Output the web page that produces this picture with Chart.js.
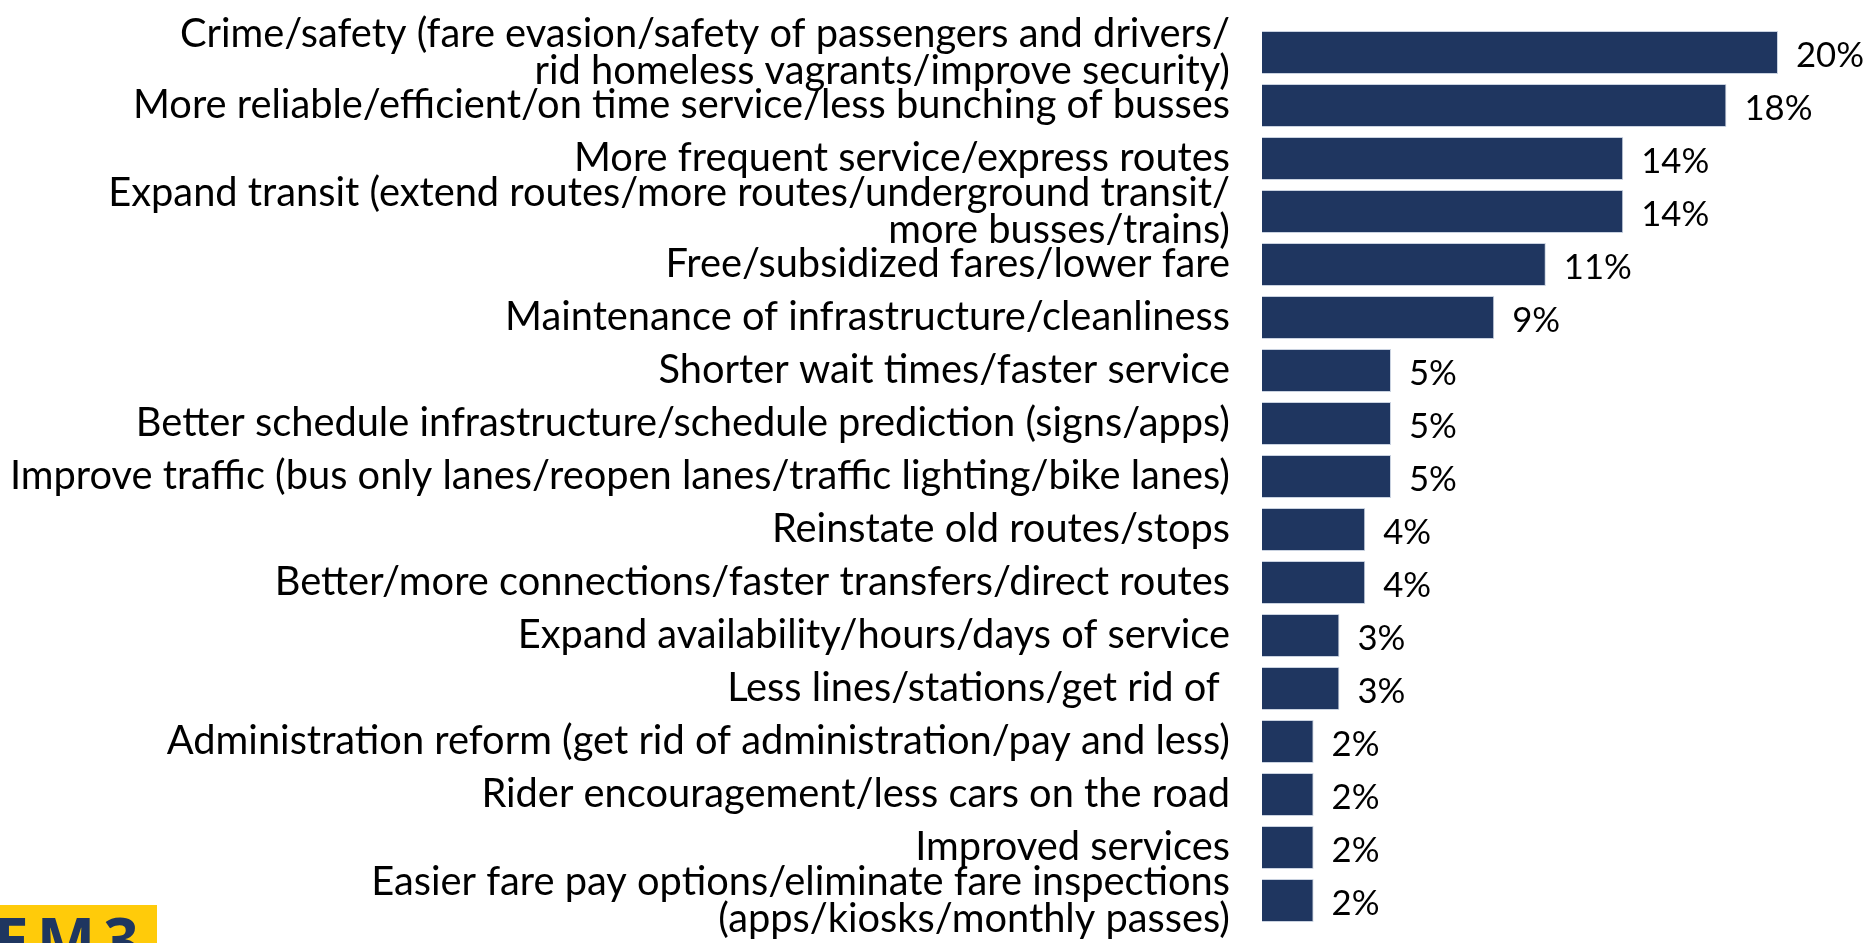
<!DOCTYPE html>
<html>
<head>
<meta charset="utf-8">
<script src="https://cdn.jsdelivr.net/npm/chart.js@4.4.0/dist/chart.umd.min.js"></script>
<style>
  html, body { margin: 0; padding: 0; background: #fff; overflow: hidden; }
  #wrap { position: relative; width: 1875px; height: 943px; }
  #logo {
    position: absolute; left: 0; top: 905px; width: 157px; height: 38px;
    background: #ffcb0a; overflow: hidden;
  }
  #logo span {
    position: absolute; left: -6px; top: 3px;
    font: bold 62px "Open Sans", sans-serif; color: #1f3660; letter-spacing: 8px;
    line-height: 1;
  }
</style>
</head>
<body>
<div id="wrap">
  <canvas id="chartIdeas" width="1875" height="943"></canvas>
  <div id="logo"><span>EM3</span></div>
</div>
<script>
const categories = [
  ["Crime/safety (fare evasion/safety of passengers and drivers/", "rid homeless vagrants/improve security)"],
  "More reliable/efficient/on time service/less bunching of busses",
  "More frequent service/express routes",
  ["Expand transit (extend routes/more routes/underground transit/", "more busses/trains)"],
  "Free/subsidized fares/lower fare",
  "Maintenance of infrastructure/cleanliness",
  "Shorter wait times/faster service",
  "Better schedule infrastructure/schedule prediction (signs/apps)",
  "Improve traffic (bus only lanes/reopen lanes/traffic lighting/bike lanes)",
  "Reinstate old routes/stops",
  "Better/more connections/faster transfers/direct routes",
  "Expand availability/hours/days of service",
  "Less lines/stations/get rid of ",
  "Administration reform (get rid of administration/pay and less)",
  "Rider encouragement/less cars on the road",
  "Improved services",
  ["Easier fare pay options/eliminate fare inspections", "(apps/kiosks/monthly passes)"],
];
const percents = [20, 18, 14, 14, 11, 9, 5, 5, 5, 4, 4, 3, 3, 2, 2, 2, 2];

const barColor = "#1f3660";
const family = "Lato, 'Open Sans', sans-serif";

// pick font sizes so the text widths match the picture
const mctx = document.createElement("canvas").getContext("2d");
function fitSize(text, target) {
  mctx.font = "100px " + family;
  return Math.round(100 * target / mctx.measureText(text).width * 10) / 10;
}
const labelSize = fitSize(categories[8], 1220);
const valueSize = fitSize("20%", 68);

const valueLabels = {
  id: "valueLabels",
  afterDatasetsDraw(chart) {
    const c = chart.ctx;
    const meta = chart.getDatasetMeta(0);
    c.save();
    c.font = valueSize + "px " + family;
    c.fillStyle = "#000";
    c.textBaseline = "middle";
    c.textAlign = "left";
    meta.data.forEach((bar, i) => {
      c.fillText(percents[i] + "%", bar.x + 18, bar.y + 3);
    });
    c.restore();
  },
};

const ctx = document.getElementById("chartIdeas").getContext("2d");
new Chart(ctx, {
  type: "bar",
  data: {
    labels: categories,
    datasets: [
      {
        data: percents,
        backgroundColor: barColor,
        borderColor: "#c9d2e0",
        borderWidth: 1,
        categoryPercentage: 1,
        barPercentage: 0.81,
      },
    ],
  },
  options: {
    indexAxis: "y",
    responsive: false,
    animation: false,
    layout: { padding: { top: 26, bottom: 16, left: 0, right: 19.6 } },
    plugins: { legend: { display: false }, tooltip: { enabled: false } },
    scales: {
      x: { display: false, min: 0, max: 23 },
      y: {
        grid: { display: false },
        border: { display: false },
        afterFit(scale) {
          scale.width = 1262;
          scale.paddingTop = 0;
          scale.paddingBottom = 0;
        },
        ticks: {
          padding: 24,
          autoSkip: false,
          color: "#000",
          font: { family: family, size: labelSize, lineHeight: 0.92 },
        },
      },
    },
  },
  plugins: [valueLabels],
});
</script>
</body>
</html>
